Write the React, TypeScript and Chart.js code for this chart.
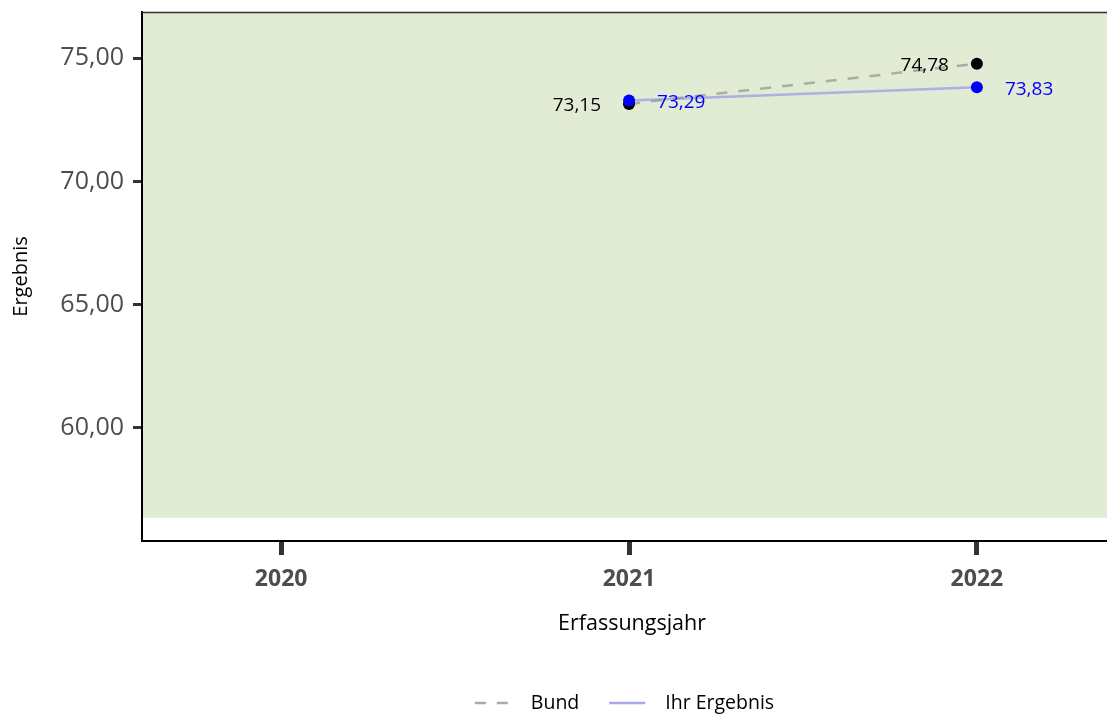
import React, { useEffect, useRef } from "react";
import { Chart, registerables } from "chart.js";

Chart.register(...registerables);

// ---- data ----
const years = [2021, 2022];
const xTickValues = [2020, 2021, 2022];
const bundValues = [73.15, 74.78];
const ihrValues = [73.29, 73.83];
const yTickValues = [60, 65, 70, 75];
const seriesNames = ["Bund", "Ihr Ergebnis"];
const greenFrom = 56.35;
const xTitle = "Erfassungsjahr";
const yTitle = "Ergebnis";

const fmt = (v: number) => v.toFixed(2).replace(".", ",");
const FONT = "'Open Sans', Lato, sans-serif";

const BUND_LINE = "rgba(150,155,140,0.75)";
const IHR_LINE = "rgba(120,120,240,0.5)";
const LEGEND_BUND = "#aaaaaa";
const LEGEND_IHR = "#a8a8f0";

const zeroPad = (s: any) => {
  s.paddingTop = 0;
  s.paddingBottom = 0;
  s.paddingLeft = 0;
  s.paddingRight = 0;
};

const decorPlugin = {
  id: "decor",
  beforeDraw(chart: any) {
    const { ctx, chartArea } = chart;
    const ys = chart.scales.y;
    const yTop = chartArea.top;
    const yBottom = ys.getPixelForValue(greenFrom);
    ctx.save();
    ctx.fillStyle = "#e2ebd3";
    ctx.fillRect(chartArea.left, yTop, chartArea.right - chartArea.left, yBottom - yTop);
    ctx.restore();
  },
  afterDatasetsDraw(chart: any) {
    const { ctx } = chart;
    ctx.save();
    ctx.font = `19px ${FONT}`;
    ctx.textBaseline = "middle";
    const mb = chart.getDatasetMeta(0);
    mb.data.forEach((pt: any, i: number) => {
      ctx.fillStyle = "#000000";
      ctx.textAlign = "right";
      ctx.fillText(fmt(bundValues[i]), pt.x - 28, pt.y + 2);
    });
    const mi = chart.getDatasetMeta(1);
    mi.data.forEach((pt: any, i: number) => {
      ctx.fillStyle = "#0000ff";
      ctx.textAlign = "left";
      ctx.fillText(fmt(ihrValues[i]), pt.x + 28, pt.y + 2);
    });
    ctx.restore();
  },
  afterDraw(chart: any) {
    const { ctx, chartArea } = chart;
    ctx.save();
    // top border
    ctx.strokeStyle = "#2c3524";
    ctx.lineWidth = 1.5;
    ctx.beginPath();
    ctx.moveTo(chartArea.left, chartArea.top + 0.5);
    ctx.lineTo(chartArea.right, chartArea.top + 0.5);
    ctx.stroke();

    // axis titles
    ctx.fillStyle = "#000000";
    ctx.font = `21.5px ${FONT}`;
    ctx.textAlign = "center";
    ctx.textBaseline = "middle";
    ctx.fillText(xTitle, 632, 624);
    ctx.font = `20px ${FONT}`;
    ctx.save();
    ctx.translate(21, (chartArea.top + chartArea.bottom) / 2);
    ctx.rotate(-Math.PI / 2);
    ctx.fillText(yTitle, 0, 0);
    ctx.restore();

    // legend
    const cx = (chartArea.left + chartArea.right) / 2;
    const ly = 703;
    const sample = 36;
    const gapText = 20;
    const gapItem = 30;
    ctx.font = `19.5px ${FONT}`;
    const w0 = ctx.measureText(seriesNames[0]).width;
    const w1 = ctx.measureText(seriesNames[1]).width;
    const total = sample + gapText + w0 + gapItem + sample + gapText + w1;
    let x = cx - total / 2;
    ctx.lineWidth = 2.5;
    ctx.strokeStyle = LEGEND_BUND;
    ctx.setLineDash([11, 11]);
    ctx.beginPath();
    ctx.moveTo(x, ly);
    ctx.lineTo(x + sample, ly);
    ctx.stroke();
    ctx.setLineDash([]);
    x += sample + gapText;
    ctx.textAlign = "left";
    ctx.fillStyle = "#000000";
    ctx.fillText(seriesNames[0], x, ly);
    x += w0 + gapItem;
    ctx.strokeStyle = LEGEND_IHR;
    ctx.beginPath();
    ctx.moveTo(x, ly);
    ctx.lineTo(x + sample, ly);
    ctx.stroke();
    x += sample + gapText;
    ctx.fillText(seriesNames[1], x, ly);
    ctx.restore();
  },
};

export default function App() {
  const ref = useRef<HTMLCanvasElement | null>(null);
  useEffect(() => {
    if (!ref.current) return;
    Chart.defaults.font.family = FONT;
    const chart = new Chart(ref.current, {
      type: "line",
      data: {
        datasets: [
          {
            label: seriesNames[0],
            data: years.map((y, i) => ({ x: y, y: bundValues[i] })),
            borderColor: BUND_LINE,
            borderWidth: 2.5,
            borderDash: [11, 11],
            pointRadius: 6,
            pointBackgroundColor: "#000000",
            pointBorderWidth: 0,
            pointBorderColor: "#000000",
            order: 1,
            clip: false as any,
          },
          {
            label: seriesNames[1],
            data: years.map((y, i) => ({ x: y, y: ihrValues[i] })),
            borderColor: IHR_LINE,
            borderWidth: 2.5,
            pointRadius: 6,
            pointBackgroundColor: "#0000ff",
            pointBorderWidth: 0,
            pointBorderColor: "#0000ff",
            order: 0,
            clip: false as any,
          },
        ],
      },
      options: {
        responsive: false,
        animation: false,
        devicePixelRatio: 1,
        layout: { autoPadding: false, padding: { top: 12, left: 0, right: 0, bottom: 0 } },
        plugins: {
          legend: { display: false },
          tooltip: { enabled: false },
        },
        scales: {
          x: {
            type: "linear",
            min: 2019.6,
            max: 2022.374,
            afterBuildTicks: (s: any) => {
              s.ticks = xTickValues.map((v) => ({ value: v }));
            },
            afterFit: (s: any) => {
              s.height = 174;
              zeroPad(s);
            },
            border: { display: true, color: "#000000", width: 2 },
            grid: {
              display: true,
              drawOnChartArea: false,
              drawTicks: true,
              tickLength: 14,
              tickWidth: 5,
              tickColor: "#333333",
            },
            ticks: {
              color: "#4d4d4d",
              padding: 11,
              font: { size: 23, weight: "bold", family: FONT },
              callback: (v: any) => String(v),
              maxRotation: 0,
            },
          },
          y: {
            type: "linear",
            min: 55.41,
            max: 76.88,
            afterBuildTicks: (s: any) => {
              s.ticks = yTickValues.map((v) => ({ value: v }));
            },
            afterFit: (s: any) => {
              s.width = 142;
              zeroPad(s);
            },
            border: { display: true, color: "#000000", width: 2 },
            grid: {
              display: true,
              drawOnChartArea: false,
              drawTicks: true,
              tickLength: 9,
              tickWidth: 3,
              tickColor: "#333333",
            },
            ticks: {
              color: "#4d4d4d",
              padding: 9,
              font: { size: 25, family: FONT },
              callback: (v: any) => fmt(Number(v)),
            },
          },
        },
      },
      plugins: [decorPlugin],
    });
    return () => chart.destroy();
  }, []);
  return (
    <div style={{ position: "fixed", left: 0, top: 0, width: 1107, height: 715, background: "#ffffff" }}>
      <canvas ref={ref} width={1107} height={715} style={{ display: "block", width: 1107, height: 715 }} />
    </div>
  );
}
